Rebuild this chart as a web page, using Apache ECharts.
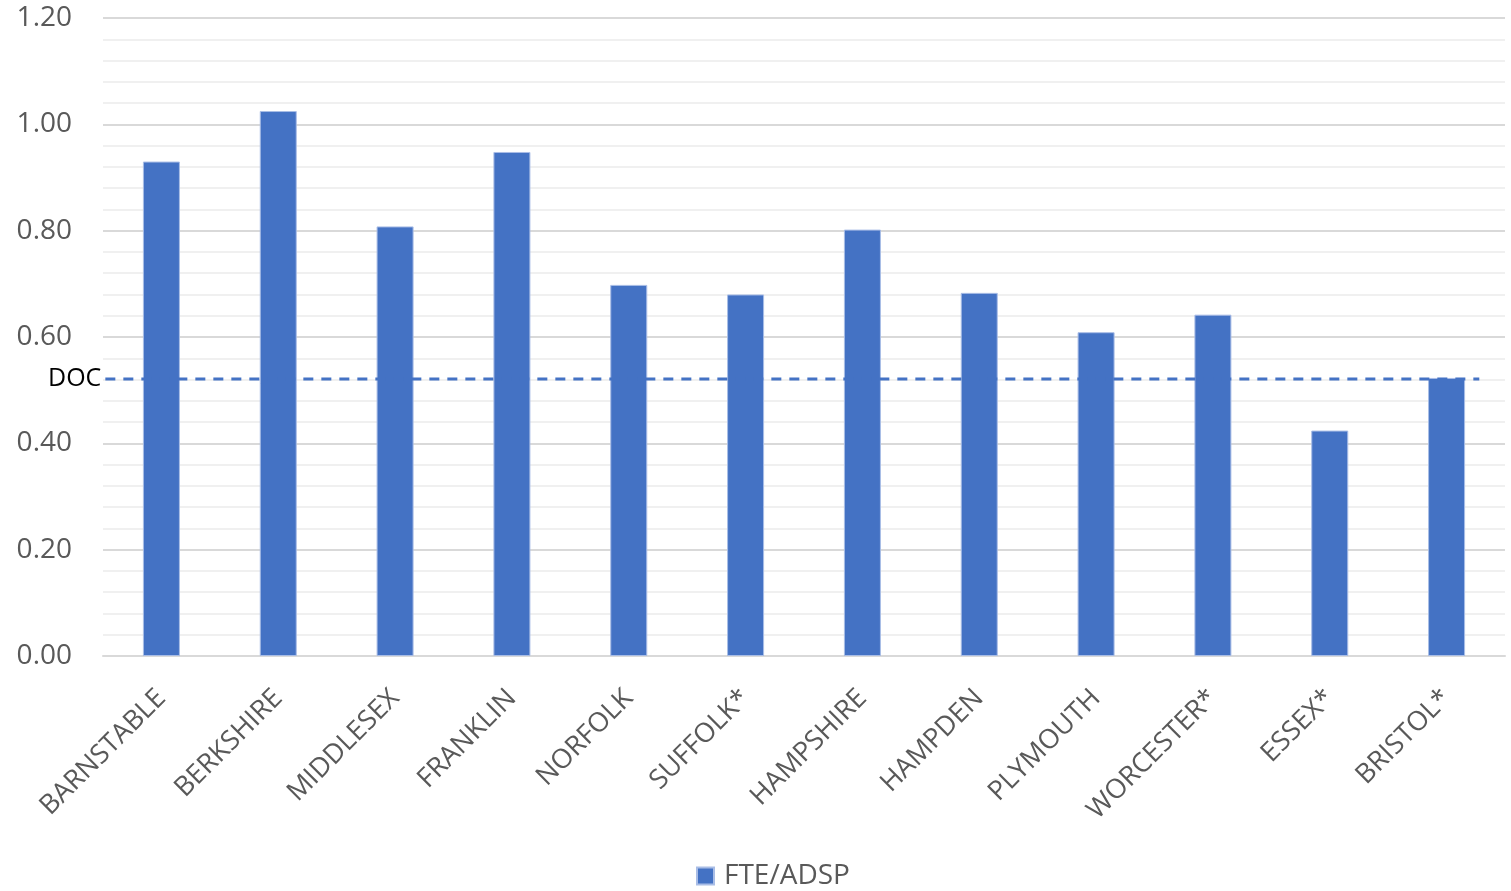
<!DOCTYPE html>
<html>
<head>
<meta charset="utf-8">
<script src="https://cdn.jsdelivr.net/npm/echarts@6/dist/echarts.min.js"></script>
<style>html,body{margin:0;padding:0;background:#fff;}#c{width:1511px;height:891px;}</style>
</head>
<body>
<div id="c"></div>
<script>
const categories = ['BARNSTABLE','BERKSHIRE','MIDDLESEX','FRANKLIN','NORFOLK','SUFFOLK*','HAMPSHIRE','HAMPDEN','PLYMOUTH','WORCESTER*','ESSEX*','BRISTOL*'];
const fteAdsp = [0.93, 1.025, 0.808, 0.948, 0.698, 0.68, 0.802, 0.683, 0.609, 0.642, 0.424, 0.523];
const docValue = 0.521;
const docSpan = [-0.48, 11.28]; // category-index extent of the DOC reference line
const seriesName = 'FTE/ADSP';
const font = 'Open Sans';

const chart = echarts.init(document.getElementById('c'));
chart.setOption({
  animation: false,
  backgroundColor: '#fff',
  grid: {left: 103, right: 6, top: 18, bottom: 235, containLabel: false},
  legend: {
    data: [seriesName], top: 862, left: 696, padding: 0, icon: 'rect', itemWidth: 17, itemHeight: 17, itemGap: 9,
    textStyle: {fontFamily: font, fontSize: 28, color: '#595959', padding: [0, 0, 0, 5]}
  },
  xAxis: [{
    type: 'category', data: categories,
    axisLine: {lineStyle: {color: '#d9d9d9', width: 2}},
    axisTick: {show: false},
    axisLabel: {rotate: 45, interval: 0, margin: 38, fontFamily: font, fontSize: 27, color: '#595959'}
  }, {
    type: 'value', min: -0.5, max: 11.5, show: false
  }],
  yAxis: {
    type: 'value', min: 0, max: 1.2, interval: 0.2,
    axisLine: {show: false}, axisTick: {show: false},
    axisLabel: {margin: 31, fontFamily: font, fontSize: 28, color: '#595959', formatter: v => v.toFixed(2)},
    splitLine: {lineStyle: {color: '#d9d9d9', width: 2}},
    minorTick: {show: false, splitNumber: 5},
    minorSplitLine: {show: true, lineStyle: {color: '#f0f0f0', width: 2}}
  },
  series: [{
    name: seriesName, type: 'bar', data: fteAdsp, barWidth: 37,
    itemStyle: {color: '#4472c4', borderColor: '#a9bde6', borderWidth: 1}
  }, {
    name: 'DOC', type: 'line', xAxisIndex: 1, symbol: 'none',
    data: [[docSpan[0], docValue], [docSpan[1], docValue]],
    lineStyle: {color: '#4472c4', type: [10, 8], width: 3},
    label: {show: false},
    markPoint: {
      symbol: 'circle', symbolSize: 0,
      data: [{coord: [docSpan[0], docValue], value: 'DOC'}],
      label: {show: true, position: 'left', distance: 4, formatter: 'DOC', fontFamily: font, fontSize: 25, color: '#000'}
    },
    z: 3
  }]
});
</script>
</body>
</html>
